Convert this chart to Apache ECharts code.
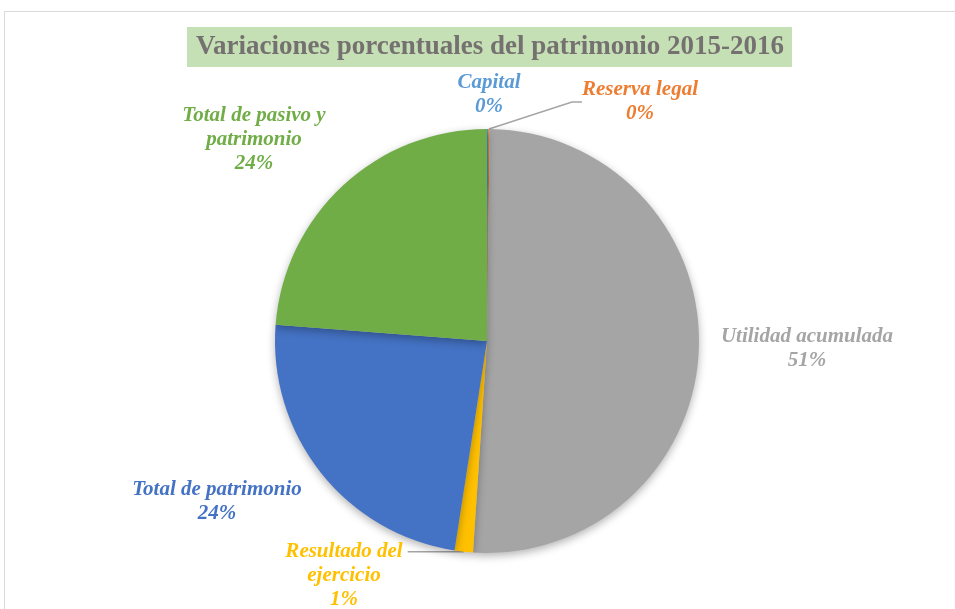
<!DOCTYPE html>
<html>
<head>
<meta charset="utf-8">
<script src="https://cdn.jsdelivr.net/npm/echarts@6/dist/echarts.min.js"></script>
<style>
  html, body { margin: 0; padding: 0; background: #fff; }
  #chart { width: 955px; height: 609px; }
</style>
</head>
<body>
<div id="chart"></div>
<script>
// data
var categories = ['Capital', 'Reserva legal', 'Utilidad acumulada', 'Resultado del\nejercicio', 'Total de patrimonio', 'Total de pasivo y\npatrimonio'];
var shares = [0.1, 0.1, 50.9, 1.4, 23.8, 23.8];
var colors = ['#5b9bd5', '#ed7d31', '#a5a5a5', '#ffc000', '#4472c4', '#70ad47'];
var showLine = [false, true, false, true, false, false];

// where the labels sit (x, y of the text block centre)
var labelSpots = [[489, 95], [640, 102], [807, 349], [344, 576], [217, 502], [254, 140]];

var serif = "'Liberation Serif', 'Times New Roman', serif";

var chart = echarts.init(document.getElementById('chart'));

var pieData = [];
for (var i = 0; i < categories.length; i++) {
    pieData.push({
        name: categories[i],
        value: shares[i],
        itemStyle: {color: colors[i]},
        label: {color: colors[i]},
        labelLine: {show: showLine[i]}
    });
}

chart.setOption({
    animation: false,
    title: {
        text: 'Variaciones porcentuales del patrimonio 2015-2016',
        left: 187,
        top: 27,
        backgroundColor: '#c5e0b4',
        padding: [7, 8, 6, 9],
        textStyle: {
            fontFamily: serif,
            fontWeight: 'bold',
            fontSize: 27,
            color: '#767171'
        }
    },
    graphic: [{
        type: 'rect',
        shape: {x: 4.5, y: 11.5, width: 1000, height: 700},
        style: {fill: 'none', stroke: '#d9d9d9', lineWidth: 1},
        silent: true
    }],
    series: [{
        type: 'pie',
        center: [487, 341],
        radius: 212,
        startAngle: 90,
        clockwise: true,
        avoidLabelOverlap: false,
        itemStyle: {
            borderWidth: 0,
            shadowBlur: 8,
            shadowColor: 'rgba(0,0,0,0.3)',
            shadowOffsetY: 3
        },
        label: {
            position: 'outside',
            fontFamily: serif,
            fontWeight: 'bold',
            fontStyle: 'italic',
            fontSize: 21,
            lineHeight: 24,
            align: 'center',
            formatter: function (p) {
                return p.name + '\n' + Math.round(p.percent) + '%';
            }
        },
        labelLine: {
            lineStyle: {color: '#a5a5a5', width: 1.5},
            length: 10,
            length2: 10
        },
        labelLayout: function (p) {
            var s = labelSpots[p.dataIndex];
            var out = {x: s[0], y: s[1], align: 'center', verticalAlign: 'middle'};
            if (p.dataIndex === 3 && p.labelLinePoints) {
                // flat leader line running into the thin slice
                var a = p.labelLinePoints[0];
                var endX = s[0] + p.labelRect.width / 2 + 5;
                out.labelLinePoints = [[a[0], a[1]], [endX, a[1]], [endX, a[1]]];
            }
            return out;
        },
        emphasis: {disabled: true},
        data: pieData
    }]
});
</script>
</body>
</html>
